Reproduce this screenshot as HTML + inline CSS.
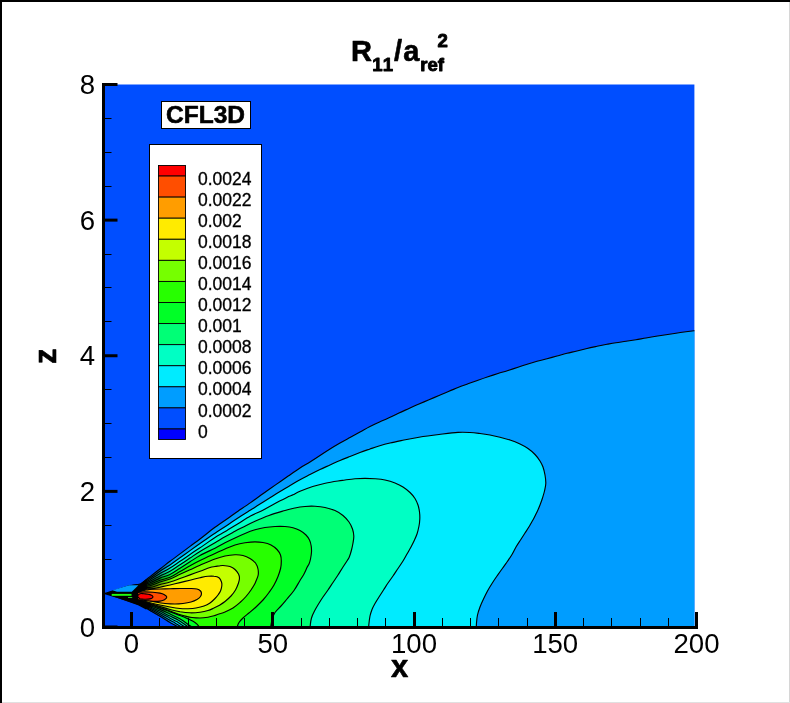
<!DOCTYPE html>
<html><head><meta charset="utf-8"><title>R11/aref2 - CFL3D</title>
<style>
html,body{margin:0;padding:0;background:#fff;}
body{width:790px;height:703px;overflow:hidden;}
svg{display:block;}
text{font-family:"Liberation Sans",Arial,Helvetica,sans-serif;fill:#000;}
.b{font-weight:bold;stroke:#000;stroke-width:0.6px;stroke-linejoin:round;}
.s{stroke-width:0.9px;}
</style></head><body>
<svg width="790" height="703" viewBox="0 0 790 703">
<rect x="0" y="0" width="790" height="703" fill="#fff"/>
<defs><clipPath id="pc"><rect x="103.25" y="84.50" width="591.15" height="542.50"/></clipPath></defs>
<rect x="103.25" y="84.50" width="591.15" height="542.50" fill="#004eff"/>
<g clip-path="url(#pc)" stroke="#000" stroke-width="1.15" stroke-linejoin="round">
<path d="M105.0 593.4 C109.0 592.2 123.3 587.8 129.0 586.3 C134.7 584.8 137.0 584.7 139.0 584.2 C141.0 583.8 139.2 584.9 141.0 583.6 C142.8 582.3 146.8 579.0 150.0 576.6 C153.2 574.2 156.7 571.5 160.0 569.0 C163.3 566.5 166.7 563.8 170.0 561.3 C173.3 558.8 176.7 556.4 180.0 553.9 C183.3 551.4 186.7 548.9 190.0 546.4 C193.3 543.9 195.8 542.2 200.0 539.0 C204.2 535.8 209.8 531.2 215.0 527.3 C220.2 523.4 227.7 518.5 231.5 515.8 C235.3 513.1 234.8 513.4 238.0 511.2 C241.2 509.0 246.4 505.6 250.6 502.6 C254.8 499.7 259.1 496.5 263.3 493.5 C267.5 490.5 271.7 487.6 275.9 484.6 C280.1 481.7 284.6 478.6 288.6 475.8 C292.6 473.0 296.4 470.3 300.0 468.0 C303.6 465.7 306.7 464.1 310.0 462.0 C313.3 459.9 316.7 457.7 320.0 455.5 C323.3 453.3 326.7 451.1 330.0 449.0 C333.3 446.9 336.7 444.9 340.0 443.0 C343.3 441.1 346.7 439.3 350.0 437.5 C353.3 435.7 356.7 433.8 360.0 432.0 C363.3 430.2 366.8 428.1 370.0 426.5 C373.2 424.9 375.8 423.6 379.0 422.2 C382.2 420.8 385.7 419.3 389.0 417.8 C392.3 416.3 395.7 414.6 399.0 413.0 C402.3 411.4 405.7 410.0 409.0 408.5 C412.3 407.0 415.7 405.4 419.0 404.0 C422.3 402.6 425.7 401.2 429.0 399.8 C432.3 398.4 435.7 396.9 439.0 395.5 C442.3 394.1 445.8 392.6 449.0 391.3 C452.2 390.0 454.8 388.8 458.0 387.5 C461.2 386.2 464.7 385.0 468.0 383.8 C471.3 382.6 474.7 381.5 478.0 380.3 C481.3 379.1 484.7 377.9 488.0 376.8 C491.3 375.7 494.7 374.6 498.0 373.5 C501.3 372.4 504.7 371.6 508.0 370.5 C511.3 369.4 514.7 368.3 518.0 367.2 C521.3 366.1 524.8 365.0 528.0 364.0 C531.2 363.0 533.8 362.2 537.0 361.3 C540.2 360.4 543.7 359.7 547.0 358.8 C550.3 357.9 553.7 356.9 557.0 356.0 C560.3 355.1 563.7 354.1 567.0 353.3 C570.3 352.5 573.7 351.8 577.0 351.0 C580.3 350.2 583.7 349.3 587.0 348.5 C590.3 347.7 593.7 347.0 597.0 346.3 C600.3 345.6 603.8 344.9 607.0 344.3 C610.2 343.7 612.8 343.2 616.0 342.7 C619.2 342.2 622.7 341.8 626.0 341.3 C629.3 340.8 632.7 340.2 636.0 339.7 C639.3 339.1 642.7 338.6 646.0 338.0 C649.3 337.4 652.7 336.8 656.0 336.3 C659.3 335.8 662.7 335.3 666.0 334.8 C669.3 334.3 672.7 333.7 676.0 333.2 C679.3 332.7 683.0 332.2 686.0 331.8 C689.0 331.4 691.7 331.1 694.0 330.8 C696.3 330.5 699.0 330.1 700.0 330.0 L700 629.0 L181.9 629.0 C181.0 628.5 177.9 626.8 176.5 626.0 C175.1 625.2 174.3 624.8 173.2 624.2 C172.2 623.6 172.2 623.7 170.0 622.4 C167.8 621.1 163.3 618.2 160.0 616.2 C156.7 614.2 153.5 612.4 150.0 610.4 C146.5 608.4 146.5 607.2 139.0 604.4 C131.5 601.6 110.7 595.4 105.0 593.6 Z" fill="#009dff"/>
<path d="M141.0 584.1 C142.5 583.1 146.8 580.3 150.0 578.1 C153.2 576.0 156.7 573.5 160.0 571.3 C163.3 569.1 166.7 567.1 170.0 564.9 C173.3 562.6 176.7 560.2 180.0 557.8 C183.3 555.4 186.7 553.0 190.0 550.6 C193.3 548.2 195.8 546.4 200.0 543.5 C204.2 540.6 210.3 536.3 215.0 533.2 C219.7 530.1 223.7 527.6 228.0 524.7 C232.3 521.8 237.2 518.5 241.0 516.0 C244.8 513.5 246.9 512.3 250.6 510.0 C254.3 507.7 259.1 504.8 263.3 502.1 C267.5 499.5 271.7 496.7 275.9 494.1 C280.1 491.5 284.6 488.9 288.6 486.5 C292.6 484.1 296.4 481.7 300.0 479.7 C303.6 477.7 306.7 476.2 310.0 474.5 C313.3 472.8 316.7 471.1 320.0 469.5 C323.3 467.9 326.7 466.5 330.0 465.0 C333.3 463.5 336.7 461.9 340.0 460.5 C343.3 459.1 346.7 457.8 350.0 456.5 C353.3 455.2 356.7 453.8 360.0 452.5 C363.3 451.2 366.8 450.1 370.0 449.0 C373.2 447.9 375.7 447.0 379.0 446.0 C382.3 445.0 385.8 444.0 390.0 443.0 C394.2 442.0 399.2 441.0 404.0 440.0 C408.8 439.0 413.2 438.1 419.0 437.2 C424.8 436.3 432.5 435.3 439.0 434.5 C445.5 433.7 452.8 432.7 458.0 432.4 C463.2 432.1 466.3 432.3 470.0 432.5 C473.7 432.7 476.7 433.1 480.0 433.5 C483.3 433.9 486.7 434.4 490.0 435.0 C493.3 435.6 496.7 436.4 500.0 437.2 C503.3 438.0 506.7 438.9 510.0 440.0 C513.3 441.1 517.0 442.6 520.0 444.0 C523.0 445.4 525.5 446.8 528.0 448.5 C530.5 450.2 533.0 452.4 535.0 454.5 C537.0 456.6 538.7 458.9 540.0 461.0 C541.3 463.1 542.2 464.7 543.0 467.0 C543.8 469.3 544.5 472.2 545.0 475.0 C545.5 477.8 545.9 480.8 545.8 483.5 C545.7 486.2 545.0 488.6 544.5 491.0 C544.0 493.4 543.2 495.7 542.5 498.0 C541.8 500.3 540.9 502.7 540.0 505.0 C539.1 507.3 538.1 509.7 537.0 512.0 C535.9 514.3 534.8 516.7 533.5 519.0 C532.2 521.3 530.9 523.7 529.5 526.0 C528.1 528.3 526.5 530.7 525.0 533.0 C523.5 535.3 522.0 537.7 520.5 540.0 C519.0 542.3 517.4 544.6 516.0 547.0 C514.6 549.4 513.5 552.0 512.0 554.5 C510.5 557.0 508.7 559.6 507.0 562.0 C505.3 564.4 503.7 566.7 502.0 569.0 C500.3 571.3 498.7 573.6 497.0 576.0 C495.3 578.4 493.6 581.0 492.0 583.5 C490.4 586.0 488.9 588.4 487.5 591.0 C486.1 593.6 484.8 596.3 483.5 599.0 C482.2 601.7 481.0 604.3 480.0 607.0 C479.0 609.7 478.1 612.3 477.5 615.0 C476.9 617.7 476.7 620.7 476.5 623.0 C476.3 625.3 476.3 628.0 476.3 629.0 L185.3 629.0 C184.4 628.5 181.7 627.0 180.0 626.0 C178.3 625.0 176.7 623.9 175.0 622.9 C173.3 621.9 172.5 621.7 170.0 620.3 C167.5 618.9 163.3 616.4 160.0 614.5 C156.7 612.6 153.5 611.0 150.0 609.2 C146.5 607.4 140.8 604.7 139.0 603.8 Z" fill="#00ebff"/>
<path d="M141.0 584.7 C142.5 583.9 146.8 581.5 150.0 579.7 C153.2 577.8 156.7 575.5 160.0 573.6 C163.3 571.7 166.7 570.0 170.0 568.0 C173.3 566.0 176.7 563.5 180.0 561.3 C183.3 559.0 186.7 556.8 190.0 554.5 C193.3 552.2 195.8 550.6 200.0 547.8 C204.2 545.0 210.8 540.2 215.0 537.5 C219.2 534.8 221.5 533.9 225.3 531.6 C229.1 529.3 233.8 526.3 238.0 523.7 C242.2 521.1 246.3 518.3 250.5 516.0 C254.7 513.7 259.1 512.1 263.3 509.9 C267.5 507.7 271.7 505.2 275.9 503.0 C280.1 500.8 285.8 498.0 288.6 496.6 C291.5 495.2 291.1 495.7 293.0 494.8 C294.9 493.9 296.7 492.7 300.0 491.3 C303.3 489.9 308.5 487.9 312.7 486.5 C316.9 485.1 321.1 484.1 325.3 483.2 C329.5 482.3 334.7 481.5 338.0 481.0 C341.3 480.5 342.2 480.4 345.0 480.0 C347.8 479.6 351.7 479.0 355.0 478.7 C358.3 478.4 361.7 478.3 365.0 478.3 C368.3 478.3 371.7 478.4 375.0 478.7 C378.3 479.0 381.7 479.3 385.0 480.0 C388.3 480.7 392.0 481.8 395.0 483.0 C398.0 484.2 400.5 485.4 403.0 487.0 C405.5 488.6 408.0 490.6 410.0 492.5 C412.0 494.4 413.7 496.4 415.0 498.5 C416.3 500.6 417.2 502.8 418.0 505.0 C418.8 507.2 419.2 509.7 419.5 512.0 C419.8 514.3 419.9 516.7 419.8 519.0 C419.7 521.3 419.5 523.5 419.0 526.0 C418.5 528.5 417.8 531.7 417.0 534.0 C416.2 536.3 415.5 537.8 414.5 540.0 C413.5 542.2 412.2 544.7 411.0 547.0 C409.8 549.3 408.3 551.7 407.0 554.0 C405.7 556.3 404.5 558.6 403.0 561.0 C401.5 563.4 399.7 566.0 398.0 568.5 C396.3 571.0 394.7 573.6 393.0 576.0 C391.3 578.4 389.6 580.7 388.0 583.0 C386.4 585.3 385.0 587.7 383.5 590.0 C382.0 592.3 380.4 594.8 379.0 597.0 C377.6 599.2 376.2 601.4 375.0 603.5 C373.8 605.6 372.8 607.4 372.0 609.5 C371.2 611.6 370.5 613.4 370.0 616.0 C369.5 618.6 369.0 622.8 368.8 625.0 C368.6 627.2 368.7 628.3 368.7 629.0 L188.7 629.0 C187.8 628.5 185.5 627.2 183.5 626.0 C181.5 624.8 179.0 622.9 176.8 621.6 C174.5 620.3 172.8 619.7 170.0 618.2 C167.2 616.7 163.3 614.5 160.0 612.8 C156.7 611.1 153.5 609.6 150.0 608.0 C146.5 606.4 140.8 604.0 139.0 603.2 Z" fill="#00ffc4"/>
<path d="M141.0 585.2 C142.5 584.6 146.8 582.8 150.0 581.2 C153.2 579.7 156.7 577.6 160.0 575.9 C163.3 574.2 166.7 573.2 170.0 571.3 C173.3 569.4 176.7 566.9 180.0 564.7 C183.3 562.5 186.7 560.3 190.0 558.1 C193.3 555.9 195.8 554.0 200.0 551.5 C204.2 549.0 210.8 545.2 215.0 542.8 C219.2 540.3 221.7 538.7 225.0 536.8 C228.3 534.9 231.7 533.1 235.0 531.3 C238.3 529.5 241.7 527.9 245.0 526.2 C248.3 524.5 251.0 523.1 255.0 521.3 C259.0 519.5 264.0 517.3 269.0 515.5 C274.0 513.7 280.7 511.8 285.0 510.5 C289.3 509.2 291.7 508.7 295.0 508.0 C298.3 507.3 301.7 506.8 305.0 506.5 C308.3 506.2 311.7 506.1 315.0 506.3 C318.3 506.5 321.7 506.8 325.0 507.5 C328.3 508.2 332.0 509.2 335.0 510.5 C338.0 511.8 340.7 513.6 343.0 515.5 C345.3 517.4 347.4 519.8 349.0 522.0 C350.6 524.2 351.7 526.7 352.5 529.0 C353.3 531.3 353.7 533.7 353.8 536.0 C353.9 538.3 353.4 540.7 353.0 543.0 C352.6 545.3 352.1 547.7 351.5 550.0 C350.9 552.3 350.0 555.2 349.3 557.0 C348.6 558.8 348.4 558.8 347.3 560.5 C346.2 562.2 344.6 564.6 343.0 567.0 C341.4 569.4 339.7 572.4 338.0 575.0 C336.3 577.6 334.7 580.0 333.0 582.5 C331.3 585.0 329.7 587.6 328.0 590.0 C326.3 592.4 324.6 594.7 323.0 597.0 C321.4 599.3 319.9 601.7 318.5 604.0 C317.1 606.3 315.7 608.7 314.5 611.0 C313.3 613.3 312.2 615.7 311.5 618.0 C310.8 620.3 310.5 623.2 310.3 625.0 C310.1 626.8 310.2 628.3 310.2 629.0 L192.2 629.0 C191.3 628.5 189.3 627.5 187.0 626.0 C184.7 624.5 181.3 621.9 178.5 620.3 C175.7 618.6 173.1 617.6 170.0 616.1 C166.9 614.6 163.3 612.7 160.0 611.1 C156.7 609.5 153.5 608.2 150.0 606.7 C146.5 605.3 140.8 603.3 139.0 602.6 Z" fill="#00ff76"/>
<path d="M141.0 585.8 C142.5 585.3 146.8 584.0 150.0 582.8 C153.2 581.5 156.7 579.5 160.0 578.1 C163.3 576.7 166.7 576.1 170.0 574.5 C173.3 572.9 176.7 570.3 180.0 568.2 C183.3 566.1 186.7 563.9 190.0 561.8 C193.3 559.7 195.8 557.8 200.0 555.5 C204.2 553.2 210.8 550.3 215.0 548.2 C219.2 546.1 221.7 544.4 225.0 542.7 C228.3 541.0 231.7 539.4 235.0 537.9 C238.3 536.4 241.7 534.9 245.0 533.5 C248.3 532.1 251.7 530.8 255.0 529.8 C258.3 528.8 261.7 528.0 265.0 527.5 C268.3 527.0 271.7 526.7 275.0 526.5 C278.3 526.3 282.0 526.3 285.0 526.5 C288.0 526.7 290.5 527.0 293.0 527.7 C295.5 528.4 297.8 529.3 300.0 530.5 C302.2 531.7 304.4 533.4 306.0 535.0 C307.6 536.6 308.6 538.2 309.5 540.0 C310.4 541.8 310.9 544.0 311.2 546.0 C311.5 548.0 311.6 549.8 311.5 552.0 C311.4 554.2 310.9 557.0 310.5 559.0 C310.1 561.0 309.6 562.6 309.0 564.0 C308.4 565.4 307.8 565.8 307.0 567.5 C306.2 569.2 305.2 571.8 304.0 574.0 C302.8 576.2 301.7 577.8 300.0 580.5 C298.3 583.2 296.2 587.4 294.0 590.5 C291.8 593.6 289.2 596.4 287.0 599.0 C284.8 601.6 283.0 603.8 281.0 606.0 C279.0 608.2 276.4 610.5 275.0 612.5 C273.6 614.5 273.3 615.9 272.6 618.0 C271.9 620.1 271.3 623.2 271.0 625.0 C270.7 626.8 270.8 628.3 270.8 629.0 L195.6 629.0 C194.8 628.5 193.1 627.7 190.5 626.0 C187.9 624.3 183.7 621.0 180.2 619.0 C176.8 617.0 173.4 615.6 170.0 614.0 C166.6 612.4 163.3 610.8 160.0 609.4 C156.7 608.0 153.5 606.8 150.0 605.5 C146.5 604.3 140.8 602.6 139.0 602.0 Z" fill="#00ff27"/>
<path d="M141.0 586.4 C142.5 586.0 146.8 585.3 150.0 584.3 C153.2 583.3 156.7 581.4 160.0 580.2 C163.3 579.0 166.7 578.7 170.0 577.3 C173.3 575.9 176.7 573.5 180.0 571.6 C183.3 569.7 186.7 567.6 190.0 565.8 C193.3 563.9 195.8 562.5 200.0 560.5 C204.2 558.5 210.8 555.4 215.0 553.5 C219.2 551.6 221.7 550.4 225.0 549.0 C228.3 547.6 231.7 546.0 235.0 545.0 C238.3 544.0 241.7 543.3 245.0 542.8 C248.3 542.3 252.0 541.8 255.0 541.8 C258.0 541.8 260.3 542.0 263.0 542.5 C265.7 543.0 268.7 543.8 271.0 545.0 C273.3 546.2 275.4 547.8 277.0 549.5 C278.6 551.2 279.8 553.1 280.5 555.0 C281.2 556.9 281.3 558.8 281.3 561.0 C281.3 563.2 281.2 565.4 280.7 568.0 C280.1 570.6 279.1 573.7 278.0 576.5 C276.9 579.3 275.5 582.3 274.0 585.0 C272.5 587.7 270.8 590.0 269.0 592.5 C267.2 595.0 265.2 597.6 263.0 600.0 C260.8 602.4 258.3 604.8 256.0 607.0 C253.7 609.2 251.2 611.2 249.0 613.0 C246.8 614.8 244.7 616.4 243.0 618.0 C241.3 619.6 239.9 621.2 239.0 622.5 C238.1 623.8 237.8 624.9 237.5 626.0 C237.2 627.1 237.2 628.5 237.2 629.0 L199.9 629.0 C199.7 628.5 199.3 626.9 198.5 625.8 C197.7 624.7 196.4 623.5 195.0 622.5 C193.6 621.5 191.7 620.6 190.0 619.8 C188.3 619.0 186.7 618.2 185.0 617.5 C183.3 616.8 182.4 616.4 180.0 615.5 C177.6 614.6 173.6 613.2 170.3 611.9 C167.0 610.6 163.4 609.1 160.0 607.9 C156.6 606.7 153.3 605.6 150.0 604.5 C146.7 603.4 141.7 602.0 140.0 601.5 Z" fill="#27ff00"/>
<path d="M141.0 586.9 C142.5 586.7 146.8 586.7 150.0 585.8 C153.2 585.0 156.7 583.1 160.0 582.0 C163.3 580.9 166.7 580.3 170.0 579.0 C173.3 577.7 176.7 575.8 180.0 574.3 C183.3 572.8 186.7 571.3 190.0 569.8 C193.3 568.3 195.8 567.0 200.0 565.2 C204.2 563.4 210.8 560.5 215.0 559.0 C219.2 557.5 221.7 556.7 225.0 556.0 C228.3 555.3 232.0 554.9 235.0 554.8 C238.0 554.7 240.5 554.9 243.0 555.5 C245.5 556.1 247.9 557.2 250.0 558.5 C252.1 559.8 254.2 561.2 255.5 563.0 C256.8 564.8 257.6 567.0 258.0 569.0 C258.4 571.0 258.5 573.0 258.2 575.0 C257.9 577.0 256.6 579.5 256.0 581.0 C255.4 582.5 255.5 582.5 254.7 584.0 C253.9 585.5 252.4 587.9 251.0 590.0 C249.6 592.1 247.8 594.4 246.0 596.5 C244.2 598.6 242.2 600.6 240.0 602.5 C237.8 604.4 235.5 606.4 233.0 608.0 C230.5 609.6 227.3 611.0 225.0 612.0 C222.7 613.0 220.8 613.4 219.0 614.0 C217.2 614.6 215.8 615.3 214.0 615.8 C212.2 616.3 210.3 616.8 208.0 617.2 C205.7 617.6 202.7 618.0 200.0 618.0 C197.3 618.0 194.5 617.8 192.0 617.5 C189.5 617.2 187.3 616.6 185.0 616.0 C182.7 615.4 180.5 614.8 178.0 614.0 C175.5 613.2 173.0 612.1 170.0 611.0 C167.0 609.9 163.3 608.7 160.0 607.5 C156.7 606.3 153.3 605.1 150.0 604.0 C146.7 602.9 141.7 601.5 140.0 601.0 Z" fill="#76ff00"/>
<path d="M141.0 587.5 C142.5 587.4 146.8 587.9 150.0 587.4 C153.2 586.9 156.7 585.4 160.0 584.5 C163.3 583.6 166.7 583.0 170.0 582.0 C173.3 581.0 176.7 579.7 180.0 578.5 C183.3 577.3 186.7 576.1 190.0 574.9 C193.3 573.7 196.7 572.4 200.0 571.2 C203.3 570.0 207.5 568.3 210.0 567.5 C212.5 566.7 213.5 566.8 215.0 566.5 C216.5 566.2 217.7 566.2 219.0 566.0 C220.3 565.8 221.2 565.4 223.0 565.5 C224.8 565.6 228.0 565.8 230.0 566.5 C232.0 567.2 233.6 568.2 235.0 569.5 C236.4 570.8 237.8 572.6 238.5 574.0 C239.2 575.4 239.5 576.5 239.5 578.0 C239.5 579.5 239.2 581.0 238.5 583.0 C237.8 585.0 236.8 587.8 235.5 590.0 C234.2 592.2 232.8 594.1 231.0 596.0 C229.2 597.9 227.0 599.9 225.0 601.5 C223.0 603.1 220.8 604.4 219.0 605.5 C217.2 606.6 215.8 607.2 214.0 608.0 C212.2 608.8 210.3 609.8 208.0 610.5 C205.7 611.2 203.0 611.8 200.0 612.2 C197.0 612.6 193.3 612.9 190.0 612.8 C186.7 612.7 183.3 612.3 180.0 611.8 C176.7 611.2 173.3 610.4 170.0 609.5 C166.7 608.6 163.3 607.5 160.0 606.5 C156.7 605.5 153.3 604.5 150.0 603.5 C146.7 602.5 141.7 601.0 140.0 600.5 Z" fill="#c4ff00"/>
<path d="M141.0 588.0 C142.5 588.2 146.8 589.1 150.0 588.9 C153.2 588.8 156.7 587.9 160.0 587.2 C163.3 586.5 166.7 585.8 170.0 585.0 C173.3 584.2 176.7 583.4 180.0 582.6 C183.3 581.8 186.7 581.0 190.0 580.2 C193.3 579.4 197.0 578.4 200.0 577.7 C203.0 577.1 205.7 576.5 208.0 576.3 C210.3 576.1 212.2 576.0 214.0 576.3 C215.8 576.5 217.8 576.8 219.0 577.8 C220.2 578.8 221.0 580.6 221.5 582.0 C222.0 583.4 222.0 584.5 221.8 586.0 C221.6 587.5 221.1 589.5 220.5 591.0 C219.9 592.5 218.9 593.8 218.0 595.0 C217.1 596.2 216.3 597.2 215.0 598.5 C213.7 599.8 211.8 601.8 210.0 603.0 C208.2 604.2 206.3 605.2 204.0 606.0 C201.7 606.8 198.7 607.5 196.0 608.0 C193.3 608.5 190.7 608.6 188.0 608.7 C185.3 608.8 183.0 608.8 180.0 608.5 C177.0 608.2 173.3 607.6 170.0 607.0 C166.7 606.4 162.8 605.6 160.0 605.0 C157.2 604.4 156.3 604.3 153.0 603.5 C149.7 602.7 142.2 600.6 140.0 600.0 Z" fill="#ffeb00"/>
<path d="M137.5 592.0 C138.9 591.7 143.9 590.4 146.0 590.0 C148.1 589.6 147.7 589.7 150.0 589.5 C152.3 589.3 156.7 589.1 160.0 589.0 C163.3 588.9 166.7 588.9 170.0 588.8 C173.3 588.7 176.7 588.5 180.0 588.5 C183.3 588.5 187.2 588.4 190.0 588.5 C192.8 588.6 195.2 588.6 197.0 589.0 C198.8 589.4 199.8 590.2 200.5 591.0 C201.2 591.8 201.5 592.6 201.5 593.5 C201.5 594.4 201.2 595.5 200.5 596.5 C199.8 597.5 198.6 598.6 197.0 599.5 C195.4 600.4 193.3 601.3 191.0 602.0 C188.7 602.7 185.7 603.2 183.0 603.5 C180.3 603.8 178.0 604.0 175.0 604.0 C172.0 604.0 168.3 603.8 165.0 603.5 C161.7 603.2 157.8 602.5 155.0 602.0 C152.2 601.5 150.9 600.9 148.0 600.5 C145.1 600.1 139.2 599.8 137.5 599.6 Z" fill="#ff9d00"/>
<path d="M137.5 592.4 C138.8 592.3 142.4 591.8 145.0 591.8 C147.6 591.8 150.5 592.0 153.0 592.2 C155.5 592.4 158.2 592.7 160.0 593.1 C161.8 593.5 162.9 593.8 164.0 594.4 C165.1 595.0 166.7 596.1 166.8 597.0 C166.9 597.9 165.6 599.0 164.5 599.7 C163.4 600.4 161.9 600.8 160.0 601.1 C158.1 601.4 155.3 601.5 153.0 601.4 C150.7 601.3 148.6 600.9 146.0 600.6 C143.4 600.3 138.9 599.9 137.5 599.8 Z" fill="#ff4e00"/>
<path d="M137.0 596.3 C137.5 595.9 138.8 594.1 140.0 593.7 C141.2 593.3 142.3 593.6 144.0 593.7 C145.7 593.9 148.5 594.1 150.0 594.6 C151.5 595.1 153.0 596.0 153.0 596.7 C153.0 597.4 151.5 598.5 150.0 598.9 C148.5 599.3 145.7 599.2 144.0 599.2 C142.3 599.2 140.7 599.0 140.0 598.9 Z" fill="#ff0000"/>
<defs><linearGradient id="fg" gradientUnits="userSpaceOnUse" x1="143" y1="0" x2="172" y2="0"><stop offset="0" stop-color="#000" stop-opacity="0.8"/><stop offset="1" stop-color="#000" stop-opacity="0"/></linearGradient></defs>
<path d="M141 583.5 L172 559.6 L172 584.2 L150 589 L141 591 Z" fill="url(#fg)" stroke="none"/>
<path d="M139 604.5 L172 623.8 L172 607.5 L152 603.2 L141 600 Z" fill="url(#fg)" stroke="none"/>
<path d="M105 593.4 L129.5 584.9 L139.6 584.2 L146.5 579 L147 589.3 L141 591.6 L138.2 593.2 L138.2 599.3 L141 600.2 L150 603.6 L152 606.5 L146 609.6 L138 605.2 Z" fill="#000" stroke="none"/>
<path d="M112.5 590.2 L129.1 585.3 L138.4 585.3 L131.8 591.8 L117 591.8 Z" fill="#009dff" stroke="none"/>
<rect x="111.7" y="593.9" width="19.8" height="1.9" fill="#20ff10" stroke="none"/>
<rect x="128" y="597" width="4.2" height="1" fill="#20d020" stroke="none"/>
</g>
<g stroke="#000" fill="none">
<line x1="103.5" y1="83" x2="103.5" y2="629" stroke-width="3"/>
<line x1="102" y1="627.5" x2="698" y2="627.5" stroke-width="3"/>
<line x1="131.50" y1="612" x2="131.50" y2="629" stroke-width="3"/>
<line x1="272.50" y1="612" x2="272.50" y2="629" stroke-width="3"/>
<line x1="414.50" y1="612" x2="414.50" y2="629" stroke-width="3"/>
<line x1="555.50" y1="612" x2="555.50" y2="629" stroke-width="3"/>
<line x1="696.50" y1="612" x2="696.50" y2="629" stroke-width="3"/>
<line x1="159.50" y1="618" x2="159.50" y2="627" stroke-width="1"/>
<line x1="188.50" y1="618" x2="188.50" y2="627" stroke-width="1"/>
<line x1="216.50" y1="618" x2="216.50" y2="627" stroke-width="1"/>
<line x1="244.50" y1="618" x2="244.50" y2="627" stroke-width="1"/>
<line x1="301.50" y1="618" x2="301.50" y2="627" stroke-width="1"/>
<line x1="329.50" y1="618" x2="329.50" y2="627" stroke-width="1"/>
<line x1="357.50" y1="618" x2="357.50" y2="627" stroke-width="1"/>
<line x1="385.50" y1="618" x2="385.50" y2="627" stroke-width="1"/>
<line x1="442.50" y1="618" x2="442.50" y2="627" stroke-width="1"/>
<line x1="470.50" y1="618" x2="470.50" y2="627" stroke-width="1"/>
<line x1="498.50" y1="618" x2="498.50" y2="627" stroke-width="1"/>
<line x1="527.50" y1="618" x2="527.50" y2="627" stroke-width="1"/>
<line x1="583.50" y1="618" x2="583.50" y2="627" stroke-width="1"/>
<line x1="611.50" y1="618" x2="611.50" y2="627" stroke-width="1"/>
<line x1="640.50" y1="618" x2="640.50" y2="627" stroke-width="1"/>
<line x1="668.50" y1="618" x2="668.50" y2="627" stroke-width="1"/>
<line x1="102" y1="627.00" x2="117.5" y2="627.00" stroke-width="3"/>
<line x1="104" y1="593.50" x2="111.5" y2="593.50" stroke-width="1"/>
<line x1="104" y1="559.50" x2="111.5" y2="559.50" stroke-width="1"/>
<line x1="104" y1="525.50" x2="111.5" y2="525.50" stroke-width="1"/>
<line x1="102" y1="491.38" x2="117.5" y2="491.38" stroke-width="3"/>
<line x1="104" y1="457.50" x2="111.5" y2="457.50" stroke-width="1"/>
<line x1="104" y1="423.50" x2="111.5" y2="423.50" stroke-width="1"/>
<line x1="104" y1="389.50" x2="111.5" y2="389.50" stroke-width="1"/>
<line x1="102" y1="355.75" x2="117.5" y2="355.75" stroke-width="3"/>
<line x1="104" y1="321.50" x2="111.5" y2="321.50" stroke-width="1"/>
<line x1="104" y1="287.50" x2="111.5" y2="287.50" stroke-width="1"/>
<line x1="104" y1="254.50" x2="111.5" y2="254.50" stroke-width="1"/>
<line x1="102" y1="220.12" x2="117.5" y2="220.12" stroke-width="3"/>
<line x1="104" y1="186.50" x2="111.5" y2="186.50" stroke-width="1"/>
<line x1="104" y1="152.50" x2="111.5" y2="152.50" stroke-width="1"/>
<line x1="104" y1="118.50" x2="111.5" y2="118.50" stroke-width="1"/>
<line x1="102" y1="84.50" x2="117.5" y2="84.50" stroke-width="3"/>
</g>
<text x="131.5" y="653" font-size="27.6" text-anchor="middle">0</text>
<text x="272.8" y="653" font-size="27.6" text-anchor="middle">50</text>
<text x="414.0" y="653" font-size="27.6" text-anchor="middle">100</text>
<text x="555.2" y="653" font-size="27.6" text-anchor="middle">150</text>
<text x="696.5" y="653" font-size="27.6" text-anchor="middle">200</text>
<text x="95" y="636.5" font-size="27.6" text-anchor="end">0</text>
<text x="95" y="500.9" font-size="27.6" text-anchor="end">2</text>
<text x="95" y="365.2" font-size="27.6" text-anchor="end">4</text>
<text x="95" y="229.6" font-size="27.6" text-anchor="end">6</text>
<text x="95" y="94.0" font-size="27.6" text-anchor="end">8</text>
<text class="b" x="399.6" y="677" font-size="31" text-anchor="middle">x</text>
<text class="b" transform="translate(56,356.2) rotate(-90)" font-size="31" text-anchor="middle">z</text>
<text class="b" x="351" y="61" font-size="29">R</text>
<text class="b s" x="372.3" y="71.4" font-size="18.6" letter-spacing="1.2">11</text>
<text class="b" x="394" y="61" font-size="29">/</text>
<text class="b" x="403.2" y="61" font-size="29">a</text>
<text class="b s" x="420.2" y="71.4" font-size="18.6">ref</text>
<text class="b s" x="437.5" y="46.6" font-size="18.6">2</text>
<rect x="161.5" y="101.5" width="89" height="27" fill="#fff" stroke="#000" stroke-width="1"/>
<text class="b" x="205.6" y="123.4" font-size="24.5" text-anchor="middle">CFL3D</text>
<rect x="149.5" y="144.5" width="112" height="314" fill="#fff" stroke="#000" stroke-width="1"/>
<rect x="158.5" y="165.50" width="27" height="10.54" fill="#ff0000" stroke="#000" stroke-width="0.9"/>
<rect x="158.5" y="176.04" width="27" height="21.08" fill="#ff4e00" stroke="#000" stroke-width="0.9"/>
<rect x="158.5" y="197.12" width="27" height="21.08" fill="#ff9d00" stroke="#000" stroke-width="0.9"/>
<rect x="158.5" y="218.19" width="27" height="21.08" fill="#ffeb00" stroke="#000" stroke-width="0.9"/>
<rect x="158.5" y="239.27" width="27" height="21.08" fill="#c4ff00" stroke="#000" stroke-width="0.9"/>
<rect x="158.5" y="260.35" width="27" height="21.08" fill="#76ff00" stroke="#000" stroke-width="0.9"/>
<rect x="158.5" y="281.42" width="27" height="21.08" fill="#27ff00" stroke="#000" stroke-width="0.9"/>
<rect x="158.5" y="302.50" width="27" height="21.08" fill="#00ff27" stroke="#000" stroke-width="0.9"/>
<rect x="158.5" y="323.58" width="27" height="21.08" fill="#00ff76" stroke="#000" stroke-width="0.9"/>
<rect x="158.5" y="344.65" width="27" height="21.08" fill="#00ffc4" stroke="#000" stroke-width="0.9"/>
<rect x="158.5" y="365.73" width="27" height="21.08" fill="#00ebff" stroke="#000" stroke-width="0.9"/>
<rect x="158.5" y="386.81" width="27" height="21.08" fill="#009dff" stroke="#000" stroke-width="0.9"/>
<rect x="158.5" y="407.88" width="27" height="21.08" fill="#004eff" stroke="#000" stroke-width="0.9"/>
<rect x="158.5" y="428.96" width="27" height="10.54" fill="#0000ff" stroke="#000" stroke-width="0.9"/>
<text x="198" y="184.6" font-size="17.5" stroke="#000" stroke-width="0.3">0.0024</text>
<text x="198" y="205.7" font-size="17.5" stroke="#000" stroke-width="0.3">0.0022</text>
<text x="198" y="226.8" font-size="17.5" stroke="#000" stroke-width="0.3">0.002</text>
<text x="198" y="247.9" font-size="17.5" stroke="#000" stroke-width="0.3">0.0018</text>
<text x="198" y="268.9" font-size="17.5" stroke="#000" stroke-width="0.3">0.0016</text>
<text x="198" y="290.0" font-size="17.5" stroke="#000" stroke-width="0.3">0.0014</text>
<text x="198" y="311.1" font-size="17.5" stroke="#000" stroke-width="0.3">0.0012</text>
<text x="198" y="332.2" font-size="17.5" stroke="#000" stroke-width="0.3">0.001</text>
<text x="198" y="353.3" font-size="17.5" stroke="#000" stroke-width="0.3">0.0008</text>
<text x="198" y="374.3" font-size="17.5" stroke="#000" stroke-width="0.3">0.0006</text>
<text x="198" y="395.4" font-size="17.5" stroke="#000" stroke-width="0.3">0.0004</text>
<text x="198" y="416.5" font-size="17.5" stroke="#000" stroke-width="0.3">0.0002</text>
<text x="198" y="437.6" font-size="17.5" stroke="#000" stroke-width="0.3">0</text>
<rect x="0" y="0" width="790" height="2" fill="#000"/>
<rect x="0" y="0" width="2" height="703" fill="#000"/>
<rect x="789" y="2" width="1" height="701" fill="#d6d6d6"/>
<rect x="2" y="702" width="788" height="1" fill="#e0e0e0"/>
</svg>
</body></html>
